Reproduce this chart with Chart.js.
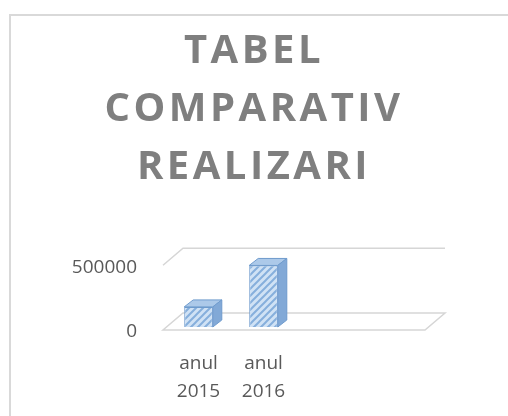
<!DOCTYPE html>
<html>
<head>
<meta charset="utf-8">
<script src="https://cdn.jsdelivr.net/npm/chart.js@4/dist/chart.umd.min.js"></script>
<style>
  html, body { margin: 0; padding: 0; background: #fff; overflow: hidden; }
  canvas { display: block; }
</style>
</head>
<body>
<canvas id="chart" width="508" height="416"></canvas>
<script>
  // datele graficului
  const categorii = [["anul", "2015"], ["anul", "2016"], "", ""];
  const realizari = [155000, 475000, null, null];
  const yTicks = [0, 500000];
  const titlu = ["TABEL", "COMPARATIV", "REALIZARI"];

  // adancimea 3D a barelor si a podelei
  const barDepth = { dx: 9, dy: -7 };
  const floorDepth = { dx: 20, dy: -17 };

  // hasura diagonala pentru fata barelor
  function hatch(ctx) {
    const n = 7;
    const c = document.createElement("canvas");
    c.width = n; c.height = n;
    const g = c.getContext("2d");
    g.fillStyle = "#d0e2f5";
    g.fillRect(0, 0, n, n);
    g.strokeStyle = "#86afdc";
    g.lineWidth = 2;
    g.beginPath();
    g.moveTo(0, n); g.lineTo(n, 0);
    g.moveTo(-n / 2, n / 2); g.lineTo(n / 2, -n / 2);
    g.moveTo(n / 2, n * 1.5); g.lineTo(n * 1.5, n / 2);
    g.stroke();
    return ctx.createPattern(c, "repeat");
  }

  const ctx = document.getElementById("chart").getContext("2d");

  // chenarul graficului + spatierea literelor din titlu
  const frame = {
    id: "frame",
    beforeDraw(chart) {
      const c = chart.ctx;
      c.save();
      c.strokeStyle = "#d9d9d9";
      c.lineWidth = 2;
      c.strokeRect(10, 15, 700, 700);
      c.restore();
      const tb = chart.titleBlock;
      if (tb && !tb._spaced) {
        const d = tb.draw;
        tb.draw = function (a) {
          this.ctx.save();
          this.ctx.letterSpacing = "3.5px";
          d.call(this, a);
          this.ctx.restore();
        };
        tb._spaced = true;
      }
    }
  };

  // podeaua si liniile de grila in perspectiva
  const floor = {
    id: "floor",
    beforeDatasetsDraw(chart) {
      const { left, right } = chart.chartArea;
      const ys = chart.scales.y;
      const c = chart.ctx;
      c.save();
      c.strokeStyle = "#d6d6d6";
      c.lineWidth = 1.5;
      ys.ticks.forEach((t, i) => {
        const fy = ys.getPixelForValue(t.value) + 3;
        const x0 = left - 3, x1 = right - 1;
        c.beginPath();
        if (i === 0) {
          c.moveTo(x0, fy);
          c.lineTo(x1, fy);
          c.lineTo(x1 + floorDepth.dx, fy + floorDepth.dy);
          c.lineTo(x0 + floorDepth.dx, fy + floorDepth.dy);
          c.closePath();
        } else {
          c.moveTo(x0, fy);
          c.lineTo(x0 + floorDepth.dx, fy + floorDepth.dy);
          c.lineTo(x1 + floorDepth.dx, fy + floorDepth.dy);
        }
        c.stroke();
      });
      c.restore();
    }
  };

  // fata de sus si fata laterala a barelor
  const depth = {
    id: "depth",
    afterDatasetsDraw(chart) {
      const c = chart.ctx;
      const { dx, dy } = barDepth;
      const vals = chart.data.datasets[0].data;
      c.save();
      c.lineWidth = 1;
      c.strokeStyle = "#6f9bcd";
      chart.getDatasetMeta(0).data.forEach((bar, i) => {
        if (vals[i] == null) return;
        const l = bar.x - bar.width / 2, r = bar.x + bar.width / 2;
        c.fillStyle = "#acc9e9";
        c.beginPath();
        c.moveTo(l, bar.y);
        c.lineTo(l + dx, bar.y + dy);
        c.lineTo(r + dx, bar.y + dy);
        c.lineTo(r, bar.y);
        c.closePath();
        c.fill(); c.stroke();
        c.fillStyle = "#82a9d7";
        c.beginPath();
        c.moveTo(r, bar.y);
        c.lineTo(r + dx, bar.y + dy);
        c.lineTo(r + dx, bar.base + dy);
        c.lineTo(r, bar.base);
        c.closePath();
        c.fill(); c.stroke();
      });
      c.restore();
    }
  };

  new Chart(ctx, {
    type: "bar",
    data: {
      labels: categorii,
      datasets: [{
        data: realizari,
        backgroundColor: hatch(ctx),
        borderColor: "#6f9bcd",
        borderWidth: 1,
        categoryPercentage: 1,
        barPercentage: 0.44
      }]
    },
    plugins: [frame, floor, depth],
    options: {
      responsive: false,
      animation: false,
      layout: { padding: { left: 0, right: 0, top: 0, bottom: 10 } },
      plugins: {
        legend: { display: false },
        tooltip: { enabled: false },
        title: {
          display: true,
          text: titlu,
          color: "#7f7f7f",
          font: { family: "Open Sans", weight: "bold", size: 40, lineHeight: 1.46 },
          padding: { top: 22, bottom: 65 }
        }
      },
      scales: {
        x: {
          afterFit: s => { s.height = 79; },
          grid: { display: false, drawTicks: false },
          border: { display: false },
          ticks: {
            color: "#595959",
            font: { family: "Open Sans", size: 19, lineHeight: 1.5 },
            padding: 22,
            maxRotation: 0,
            autoSkip: false
          }
        },
        y: {
          min: yTicks[0],
          max: yTicks[yTicks.length - 1],
          afterBuildTicks: s => { s.ticks = yTicks.map(v => ({ value: v })); },
          afterFit: s => { s.width = 166; },
          grid: { display: false, drawTicks: false },
          border: { display: false },
          ticks: {
            color: "#595959",
            font: { family: "Open Sans", size: 19 },
            padding: 29,
            labelOffset: 5,
            callback: v => String(v)
          }
        },
        dreapta: {
          position: "right",
          afterFit: s => { s.width = 82; },
          grid: { display: false, drawTicks: false },
          border: { display: false },
          ticks: { display: false }
        }
      }
    }
  });
</script>
</body>
</html>
